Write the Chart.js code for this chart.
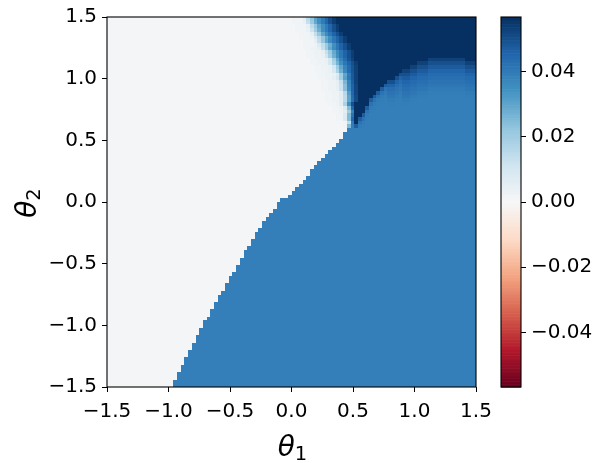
<!DOCTYPE html>
<html>
<head>
<meta charset="utf-8">
<script src="https://cdn.jsdelivr.net/npm/chart.js@4/dist/chart.umd.min.js"></script>
<style>
  html, body { margin: 0; padding: 0; background: #fff; }
  #wrap { position: relative; width: 603px; height: 463px; }
  canvas { position: absolute; top: 0; }
</style>
</head>
<body>
<div id="wrap">
  <canvas id="main" width="603" height="463" style="left:0"></canvas>
  <canvas id="cbar" width="123" height="463" style="left:480px"></canvas>
</div>
<script>
// 100 x 100 cells over [-1.5, 1.5] x [-1.5, 1.5]
const nCells = 100;
const xMin = -1.5, xMax = 1.5;
const yMin = -1.5, yMax = 1.5;
const vmin = -0.0567, vmax = 0.0567; // colour limits

const whiteVal = 0.001;  // flat region on the left
const blueVal = 0.039;   // flat region on the lower right
const navyVal = 0.057;   // saturated region top right

// first blue column of each of the lower 70 rows (bottom row first)
const boundaryCol = [
  18, 18, 19, 19, 20, 20, 21, 21, 22, 22,
  23, 23, 24, 24, 25, 25, 26, 26, 27, 28,
  28, 29, 29, 30, 30, 31, 32, 32, 33, 33,
  34, 35, 35, 36, 36, 37, 37, 38, 39, 39,
  40, 40, 41, 42, 42, 43, 44, 45, 46, 46,
  47, 49, 50, 51, 52, 53, 54, 55, 55, 56,
  57, 58, 59, 60, 61, 62, 63, 64, 64, 65
];

// upper 30 rows (top row first): white run then the fade into navy,
// "value x count", value in 1e-3; the rest of the row follows domeEdge
const topRows = [
  '1x50 2x3 5 15 22 30 35 40 45 50 54',
  '1x50 2x3 4 13 21 29 35 40 45 50 54',
  '1x51 2x3 5 15 22 30 35 40 45 50 54',
  '1x51 2x3 4 12 20 28 35 40 45 50 54',
  '1x52 2x3 5 14 22 30 36 41 46 50 54',
  '1x52 2x3 3 8 15 22 29 35 41 46 50 54',
  '1x53 2x3 5 14 22 30 36 41 46 50 54',
  '1x53 2x3 3 8 14 21 28 35 41 46 50 54',
  '1x53 2x2 3x2 5 13 21 29 36 41 46 50 54',
  '1x54 2x2 3x2 5 13 21 29 36 41 46 50 54',
  '1x54 2x2 3x2 4 11 19 28 35 41 46 50 54',
  '1x55 2x2 3x2 4 10 20 30 38 44 49 53',
  '1x55 2x2 3x2 4 10 18 27 35 41 46 50 54',
  '1x56 2x2 3x2 4 10 20 30 38 44 49 53',
  '1x56 2x2 3x2 4 9 18 28 37 44 49 53',
  '1x57 2x2 3x2 4 8 20 30 40 48 53',
  '1x57 2x2 3x2 5 10 20 31 41 48 53',
  '1x58 2x2 3x2 5 13 26 38 47 53',
  '1x58 2x2 3x2 5 12 24 37 46 52',
  '1x58 2x2 3x2 5 12 24 36 46 52',
  '1x59 2x2 3x2 6 16 32 45 52',
  '1x59 2x2 3x2 6 15 30 44 51',
  '1x59 2x2 3x2 6 15 30 43 51',
  '1x60 2x2 3 6 18 35 50',
  '1x61 2x2 3 8 25 45',
  '1x61 2x2 3 6 20 38',
  '1x62 2x2 8 25 42',
  '1x62 2x2 8 25 45',
  '1x64 2 15 40',
  '1x64 2 25'
];

// last navy row (counted from the top) for columns 66..99
const domeFirstCol = 66;
const domeEdge = [
  25, 28, 26, 25, 23, 21, 20, 19, 18, 17,
  16, 16, 15, 14, 13, 13, 12, 12, 11, 11,
  11, 10, 10, 10, 10, 10, 10, 10, 10, 10,
  10, 11, 11, 11
];
// fade below the navy edge, rows 1, 2, 3 ... below it (value in 1e-3)
const rampSharp = [47, 42, 40, 39.5];                        // columns 66..75
const rampMid = [50, 46, 43.5, 42, 41, 40, 39.5];            // columns 76..79
const rampSoft = [53, 50, 47.5, 45.5, 44, 43, 42, 41, 40, 39.5]; // columns 80..99

const xTicks = [-1.5, -1.0, -0.5, 0.0, 0.5, 1.0, 1.5];
const xTickLabels = ['−1.5', '−1.0', '−0.5', '0.0', '0.5', '1.0', '1.5'];
const yTicks = [-1.5, -1.0, -0.5, 0.0, 0.5, 1.0, 1.5];
const yTickLabels = ['−1.5', '−1.0', '−0.5', '0.0', '0.5', '1.0', '1.5'];
const cbTicks = [-0.04, -0.02, 0.0, 0.02, 0.04];
const cbTickLabels = ['−0.04', '−0.02', '0.00', '0.02', '0.04'];
const xLabel = ['θ', '1'];
const yLabel = ['θ', '2'];

const fontFamily = 'DejaVu Sans';

// matplotlib RdBu
const rdbuStops = ['#67001f', '#b2182b', '#d6604d', '#f4a582', '#fddbc7', '#f7f7f7',
                   '#d1e5f0', '#92c5de', '#4393c3', '#2166ac', '#053061'];

function hexRgb(h) {
  return [parseInt(h.slice(1, 3), 16), parseInt(h.slice(3, 5), 16), parseInt(h.slice(5, 7), 16)];
}

function rdbu(v) {
  let t = (v - vmin) / (vmax - vmin);
  t = Math.min(1, Math.max(0, t)) * (rdbuStops.length - 1);
  const i = Math.min(rdbuStops.length - 2, Math.floor(t));
  const f = t - i;
  const a = hexRgb(rdbuStops[i]), b = hexRgb(rdbuStops[i + 1]);
  const c = a.map((av, j) => Math.round(av + (b[j] - av) * f));
  return 'rgb(' + c.join(',') + ')';
}

// expand one "value x count" row
function parseRow(str) {
  let vals = [];
  str.split(' ').forEach(tok => {
    const parts = tok.split('x');
    const n = parts.length > 1 ? parseInt(parts[1]) : 1;
    for (let i = 0; i < n; i++) vals.push(parseFloat(parts[0]) / 1000);
  });
  return vals;
}

// value of a cell right of the fade, from the navy edge table
function domeValue(r, c) {
  if (c < domeFirstCol) return navyVal;
  const d = r - domeEdge[c - domeFirstCol];
  if (d <= 0) return navyVal;
  const ramp = c < 76 ? rampSharp : (c < 80 ? rampMid : rampSoft);
  return d <= ramp.length ? ramp[d - 1] / 1000 : blueVal;
}

const dx = (xMax - xMin) / nCells;
const dy = (yMax - yMin) / nCells;

// cells for the dataset
let cells = [];
for (let r = 0; r < nCells; r++) {
  const k = nCells - 1 - r; // row index from the bottom
  let vals;
  if (r < topRows.length) {
    vals = parseRow(topRows[r]);
    for (let c = vals.length; c < nCells; c++) vals.push(domeValue(r, c));
  } else {
    vals = [];
    for (let c = 0; c < nCells; c++) vals.push(c < boundaryCol[k] ? whiteVal : blueVal);
  }
  for (let c = 0; c < nCells; c++) {
    cells.push({x: xMin + (c + 0.5) * dx, y: yMin + (k + 0.5) * dy, v: vals[c]});
  }
}

// draws each cell through the chart scales
const heatmap = {
  id: 'heatmap',
  beforeDatasetsDraw(chart) {
    const {ctx, scales: {x, y}} = chart;
    ctx.save();
    chart.data.datasets[0].data.forEach(p => {
      const x0 = Math.round(x.getPixelForValue(p.x - dx / 2));
      const x1 = Math.round(x.getPixelForValue(p.x + dx / 2));
      const y0 = Math.round(y.getPixelForValue(p.y + dy / 2));
      const y1 = Math.round(y.getPixelForValue(p.y - dy / 2));
      ctx.fillStyle = rdbu(p.v);
      ctx.fillRect(x0, y0, x1 - x0, y1 - y0);
    });
    ctx.restore();
  }
};

// black box round the plot area
const frame = {
  id: 'frame',
  afterDraw(chart) {
    const {ctx, chartArea: a} = chart;
    ctx.save();
    ctx.strokeStyle = '#000';
    ctx.lineWidth = 1.1;
    ctx.strokeRect(a.left, a.top, a.right - a.left, a.bottom - a.top);
    ctx.restore();
  }
};

// italic symbol with an upright subscript, like mathtext
function drawSubLabel(ctx, parts, x, y, rot) {
  ctx.save();
  ctx.translate(x, y);
  ctx.rotate(rot);
  ctx.fillStyle = '#000';
  ctx.textBaseline = 'alphabetic';
  ctx.textAlign = 'left';
  ctx.font = 'italic 28px "' + fontFamily + '"';
  const w1 = ctx.measureText(parts[0]).width;
  ctx.font = '19.5px "' + fontFamily + '"';
  const w2 = ctx.measureText(parts[1]).width;
  const x0 = -(w1 + w2) / 2;
  ctx.font = 'italic 28px "' + fontFamily + '"';
  ctx.fillText(parts[0], x0, 0);
  ctx.font = '19.5px "' + fontFamily + '"';
  ctx.fillText(parts[1], x0 + w1, 4);
  ctx.restore();
}

const axisLabels = {
  id: 'axisLabels',
  afterDraw(chart) {
    const {ctx, chartArea: a} = chart;
    drawSubLabel(ctx, xLabel, (a.left + a.right) / 2 + 1, 456, 0);
    drawSubLabel(ctx, yLabel, 36, (a.top + a.bottom) / 2 + 1, -Math.PI / 2);
  }
};

// colour strip drawn through the colorbar axis
const colorStrip = {
  id: 'colorStrip',
  beforeDatasetsDraw(chart) {
    const {ctx, chartArea: a, scales: {y}} = chart;
    const steps = 256;
    ctx.save();
    for (let i = 0; i < steps; i++) {
      const v0 = vmin + (vmax - vmin) * i / steps;
      const v1 = vmin + (vmax - vmin) * (i + 1) / steps;
      const p0 = y.getPixelForValue(v0), p1 = y.getPixelForValue(v1);
      ctx.fillStyle = rdbu((v0 + v1) / 2);
      ctx.fillRect(a.left, p1, a.right - a.left, p0 - p1 + 0.6);
    }
    ctx.restore();
  }
};

const tickFont = {family: fontFamily, size: 20};

new Chart(document.getElementById('main'), {
  type: 'scatter',
  data: {
    datasets: [{data: cells, pointRadius: 0, hoverRadius: 0}]
  },
  options: {
    responsive: false,
    devicePixelRatio: 1,
    animation: false,
    events: [],
    layout: {padding: {top: 17, right: 127, bottom: 0, left: 0}},
    plugins: {legend: {display: false}, tooltip: {enabled: false}},
    scales: {
      x: {
        type: 'linear', min: xMin, max: xMax,
        afterBuildTicks: s => { s.ticks = xTicks.map(v => ({value: v})); },
        afterFit: s => { s.height = 76; },
        ticks: {callback: (v, i) => xTickLabels[i], font: tickFont, color: '#000',
                padding: 8, autoSkip: false, maxRotation: 0},
        grid: {display: true, drawOnChartArea: false, tickLength: 5, color: '#000', lineWidth: 1},
        border: {display: false}
      },
      y: {
        type: 'linear', min: yMin, max: yMax,
        afterBuildTicks: s => { s.ticks = yTicks.map(v => ({value: v})); },
        afterFit: s => { s.width = 107; },
        ticks: {callback: (v, i) => yTickLabels[i], font: tickFont, color: '#000',
                padding: 5, autoSkip: false},
        grid: {display: true, drawOnChartArea: false, tickLength: 5, color: '#000', lineWidth: 1},
        border: {display: false}
      }
    }
  },
  plugins: [heatmap, frame, axisLabels]
});

new Chart(document.getElementById('cbar'), {
  type: 'scatter',
  data: {datasets: []},
  options: {
    responsive: false,
    devicePixelRatio: 1,
    animation: false,
    events: [],
    layout: {padding: {top: 17, right: 0, bottom: 76, left: 21}},
    plugins: {legend: {display: false}, tooltip: {enabled: false}},
    scales: {
      x: {type: 'linear', display: false, min: 0, max: 1},
      y: {
        type: 'linear', position: 'right', min: vmin, max: vmax,
        afterBuildTicks: s => { s.ticks = cbTicks.map(v => ({value: v})); },
        afterFit: s => { s.width = 82; },
        ticks: {callback: (v, i) => cbTickLabels[i], font: tickFont, color: '#000',
                padding: 5, autoSkip: false},
        grid: {display: true, drawOnChartArea: false, tickLength: 5, color: '#000', lineWidth: 1},
        border: {display: false}
      }
    }
  },
  plugins: [colorStrip, frame]
});
</script>
</body>
</html>
